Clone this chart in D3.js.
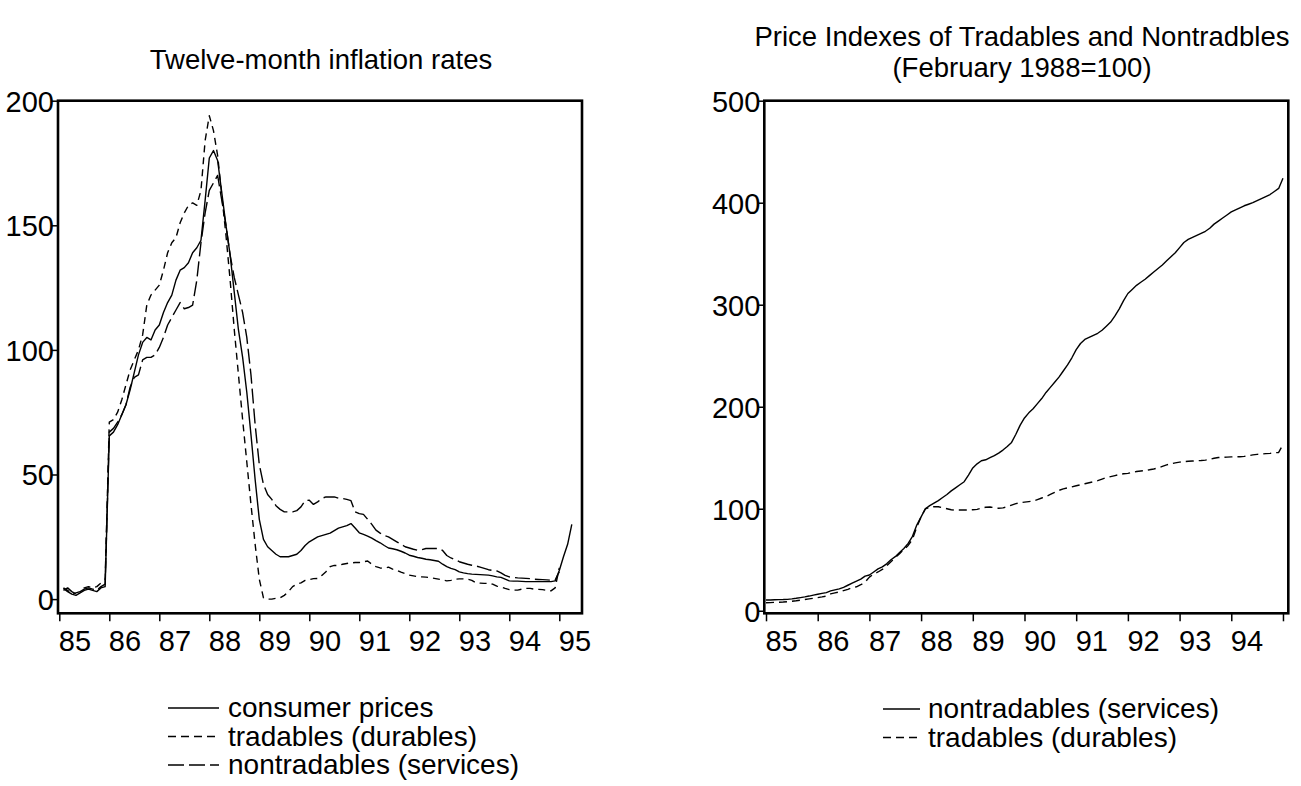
<!DOCTYPE html>
<html>
<head>
<meta charset="utf-8">
<script src="https://cdn.jsdelivr.net/npm/d3@7/dist/d3.min.js"></script>
<style>
  html, body { margin: 0; padding: 0; background: #fff; }
  svg text { font-family: "Liberation Sans", Arial, sans-serif; fill: #000; }
</style>
</head>
<body>
<svg id="chart" width="1301" height="786"></svg>
<script>
// ---------------- DATA ----------------
// Left panel: twelve-month inflation rates, monthly, Feb 1985 .. (Apr 1995)
const leftStartYear = 1985, leftStartMonth = 1; // 0 = January
const consumerPrices = [
  4.3, 3.0, 2.0, 1.5, 2.5, 3.5, 4.0, 3.5, 3.0, 4.5, 5.0,
  65.5, 67, 70, 74, 78, 84, 91, 98, 103, 105, 104, 108,
  110, 115, 119, 122, 128, 132, 133, 135, 139, 141, 144, 160,
  177, 180, 176, 163, 150, 138, 123, 108, 97, 83, 66, 48,
  32, 24, 21, 19.5, 18, 17, 17, 17, 17.5, 18, 19.5, 21.5,
  23, 24, 25, 25.5, 26, 26.5, 27.5, 28.5, 29, 29.5, 30.3, 28.5,
  26.6, 26, 25.3, 24.5, 23.5, 22.6, 21.5, 20.5, 20.2, 19.8, 19.2, 18.5,
  17.6, 17.2, 16.7, 16.4, 16.0, 15.8, 15.5, 15.2, 14, 13, 12.3, 11.8,
  10.9, 10.5, 10.2, 10.0, 9.9, 9.8, 9.7, 9.6, 9.3, 8.9, 8.7, 8.0,
  7.3, 7.2, 7.2, 7.1, 7.0, 7.0, 7.0, 7.1, 7.0, 7.0, 7.0, 7.3,
  11.5, 17, 22, 30
];
const tradablesInfl = [
  4.5, 3.5, 2.0, 2.5, 3.0, 4.5, 5.0, 4.5, 5.0, 6.5, 7.8,
  71, 72, 75, 80, 86, 92, 96, 100, 106, 118, 122, 124,
  126, 132, 139, 143, 145, 151, 155, 158, 159, 158, 164, 184,
  194, 188, 178, 162, 146, 128, 108, 90, 72, 55, 38, 22,
  8, 0.5, 0, 0, 0.3, 0.5, 1.5, 3, 5, 6, 6.5, 7.5,
  7.8, 8.2, 8.3, 9.5, 11, 13, 13.5, 13.5, 14, 14.3, 14.5, 14.7,
  14.7, 15, 15.3, 14, 13, 12.5, 12.3, 12.8, 12, 11.6, 10.8, 10.2,
  9.6, 9.3, 9.0, 8.9, 8.8, 8.6, 8.3, 8.0, 7.7, 7.3, 7.5, 8.0,
  8.1, 8.1, 8.0, 7.5, 6.5, 6.4, 6.3, 6.3, 6.0, 5.2, 4.9, 4.3,
  3.8, 3.6, 3.6, 4.0, 4.3, 4.3, 4.0, 3.9, 3.8, 3.5, 3.3, 4.5,
  12.5
];
const nontradablesInfl = [
  3.5, 4.5, 3.0, 2.0, 3.0, 4.0, 4.5, 4.0, 3.5, 5.0, 6.0,
  67, 68.5, 71, 74, 78, 85, 89, 90, 96, 97, 97, 98,
  101, 105, 110, 113, 116, 119, 116.5, 117, 118, 128, 143, 155,
  164, 167, 170, 160, 150, 138, 129, 122, 115, 105, 90, 70,
  54, 46, 42, 40, 37.5, 36, 35, 35, 35, 35.5, 37, 39.5,
  39.7, 38, 39, 40.4, 41, 41, 41, 40.5, 40.4, 40, 39.5, 35,
  34.3, 34, 32, 30, 27.7, 26.5, 25.5, 25, 24, 23, 22, 21,
  20.5, 20, 19.6, 19.8, 20.3, 20.3, 20.3, 20.3, 19.5, 17.5, 16.5, 15.8,
  15, 14.5, 14, 13.6, 13.3, 12.8, 12.3, 11.8, 11.5, 11.3, 10.5, 9.5,
  8.9, 8.7, 8.5, 8.4, 8.3, 8.2, 8.0, 7.9, 7.8, 7.7, 7.6, 7.5,
  11
];

// Right panel: price indexes (Feb 1988 = 100), monthly, Jan 1985 .. Jan 1995
const rightStartYear = 1985, rightStartMonth = 0;
const nontradablesIndex = [
  10.5, 10.6, 10.8, 10.9, 11.0, 11.2, 11.6, 12.2, 12.9, 13.6, 14.4, 15.3,
  16.2, 17.0, 17.8, 19.5, 20.5, 21.5, 23, 25, 27, 29, 31, 34,
  35, 38, 41, 43, 46, 50, 53, 57, 61, 66, 73, 84,
  92, 100, 103, 105.5, 108, 111, 114, 117.5, 120.5, 123.5, 126.5, 133,
  140, 144, 147, 148, 150, 152, 154.5, 157.5, 161, 165, 173, 182,
  189, 194, 198, 203, 208, 214, 219, 224, 229, 235, 241, 248,
  256, 262, 266, 268, 270, 272, 275, 279, 283, 289, 296, 304,
  311, 315, 319, 322, 325, 328.5, 332, 335.5, 339, 343, 347, 351,
  356, 361, 364, 366, 368, 370, 372, 375, 379, 382, 385, 388,
  391, 393, 395, 397, 398.5, 400, 402, 404, 406, 408, 411, 414,
  424
];
const tradablesIndex = [
  7.8, 8.0, 8.2, 8.4, 8.6, 8.9, 9.3, 9.8, 10.4, 11.0, 11.6, 12.2,
  12.9, 13.6, 14.4, 16.5, 17.5, 18.5, 19.8, 21, 22.5, 23.5, 25.5, 28,
  33, 36, 38, 40.5, 44, 48, 52, 56, 60, 64, 70, 82,
  92, 100, 101.5, 102, 102, 101, 100, 99, 98.7, 98.7, 98.7, 98.8,
  99, 99.4, 100.5, 101.5, 101.7, 101, 100.5, 100.8, 102, 103.5, 105, 106,
  106.5, 107, 107.5, 109, 110.5, 112, 114, 116, 118, 119.5, 120.5, 121.5,
  122.5, 123.5, 124.5, 125.5, 126.5, 127.5, 129, 130.5, 131.5, 132.5, 133.5, 134.3,
  134.7, 135.5, 136.5, 137, 137.5, 138.2, 139, 140, 141.5, 143, 144, 145,
  145.7, 146.1, 146.5, 146.8, 147, 147.3, 147.7, 148.5, 149.5, 150.2, 150.4, 150.6,
  150.8, 151, 151, 151.3, 152, 152.8, 153.3, 153.6, 154, 154.3, 154.9, 155.2,
  163
];

const yearTicks = [1985, 1986, 1987, 1988, 1989, 1990, 1991, 1992, 1993, 1994, 1995];
const leftYearLabels = ["85","86","87","88","89","90","91","92","93","94","95"];
const rightYearLabels = ["85","86","87","88","89","90","91","92","93","94",""];
const leftYTicks = [0, 50, 100, 150, 200];
const rightYTicks = [0, 100, 200, 300, 400, 500];

const leftTitle = ["Twelve-month inflation rates"];
const rightTitle = ["Price Indexes of Tradables and Nontradbles", "(February 1988=100)"];
const leftLegend = ["consumer prices", "tradables (durables)", "nontradables (services)"];
const rightLegend = ["nontradables (services)", "tradables (durables)"];

// ---------------- DRAWING ----------------
const TICK_FONT = 29, TITLE_FONT = 27.5, LEGEND_FONT = 28;
const svg = d3.select("#chart");

function toPoints(values, startYear, startMonth) {
  return values.map((v, i) => ({ t: startYear + (startMonth + i) / 12, v }));
}

function panel(opts) {
  const x = d3.scaleLinear().domain(opts.xDomain).range([opts.left, opts.right]);
  const y = d3.scaleLinear().domain(opts.yDomain).range([opts.bottom, opts.top]);
  const g = svg.append("g");

  // y axis
  const ya = g.append("g").attr("transform", `translate(${opts.left},0)`)
    .call(d3.axisLeft(y).tickValues(opts.yTicks).tickSize(6).tickPadding(0).tickSizeOuter(0));
  ya.select(".domain").remove();
  ya.selectAll(".tick line").attr("stroke", "#000").attr("stroke-width", 1.5);
  ya.selectAll(".tick text").attr("font-size", TICK_FONT).attr("dy", "0.36em").attr("x", -4);

  // x axis
  const xa = g.append("g").attr("transform", `translate(0,${opts.bottom})`)
    .call(d3.axisBottom(x).tickValues(yearTicks).tickSize(8).tickSizeOuter(0)
      .tickFormat((d, i) => opts.xLabels[i]));
  xa.select(".domain").remove();
  xa.selectAll(".tick line").attr("stroke", "#000").attr("stroke-width", 1.5);
  xa.selectAll(".tick text").attr("font-size", TICK_FONT).attr("text-anchor", "start")
    .attr("x", -1).attr("y", 37.5).attr("dy", null);

  // series
  const line = d3.line().x(d => x(d.t)).y(d => y(d.v));
  opts.series.forEach(s => {
    g.append("path").datum(s.data)
      .attr("d", line).attr("fill", "none").attr("stroke", "#000")
      .attr("stroke-width", 1.4).attr("stroke-linejoin", "round")
      .attr("stroke-dasharray", s.dash);
  });

  // frame
  g.append("rect").attr("x", opts.left).attr("y", opts.top)
    .attr("width", opts.right - opts.left).attr("height", opts.bottom - opts.top)
    .attr("fill", "none").attr("stroke", "#000").attr("stroke-width", 2.6);

  // title
  opts.title.forEach((t, i) => {
    g.append("text").attr("x", opts.titleX).attr("y", opts.titleY + i * 31)
      .attr("text-anchor", "middle").attr("font-size", TITLE_FONT).text(t);
  });

  // legend
  opts.series.forEach((s, i) => {
    const yy = opts.legendY + i * 28.5;
    g.append("line").attr("x1", opts.legendX1).attr("x2", opts.legendX2)
      .attr("y1", yy - 9).attr("y2", yy - 9)
      .attr("stroke", "#000").attr("stroke-width", 1.4)
      .attr("stroke-dasharray", s.legendDash);
    g.append("text").attr("x", opts.legendText).attr("y", yy)
      .attr("font-size", LEGEND_FONT).text(opts.legend[i]);
  });
}

panel({
  left: 58, right: 582, top: 100.7, bottom: 613.3,
  xDomain: [1984.974, 1995.454], yDomain: [-5.7, 200],
  yTicks: leftYTicks, xLabels: leftYearLabels,
  series: [
    { data: toPoints(consumerPrices, leftStartYear, leftStartMonth), dash: null, legendDash: null },
    { data: toPoints(tradablesInfl, leftStartYear, leftStartMonth), dash: "7,5", legendDash: "8,5" },
    { data: toPoints(nontradablesInfl, leftStartYear, leftStartMonth), dash: "15,5", legendDash: "16,5" }
  ],
  title: leftTitle, titleX: 321, titleY: 69,
  legend: leftLegend, legendX1: 168, legendX2: 219, legendText: 228, legendY: 717
});

panel({
  left: 764.3, right: 1288.3, top: 100.7, bottom: 613.3,
  xDomain: [1984.967, 1995.103], yDomain: [-2.5, 500],
  yTicks: rightYTicks, xLabels: rightYearLabels,
  series: [
    { data: toPoints(nontradablesIndex, rightStartYear, rightStartMonth), dash: null, legendDash: null },
    { data: toPoints(tradablesIndex, rightStartYear, rightStartMonth), dash: "8,5", legendDash: "8,5" }
  ],
  title: rightTitle, titleX: 1022, titleY: 46,
  legend: rightLegend, legendX1: 883, legendX2: 920, legendText: 928, legendY: 718
});
</script>
</body>
</html>
